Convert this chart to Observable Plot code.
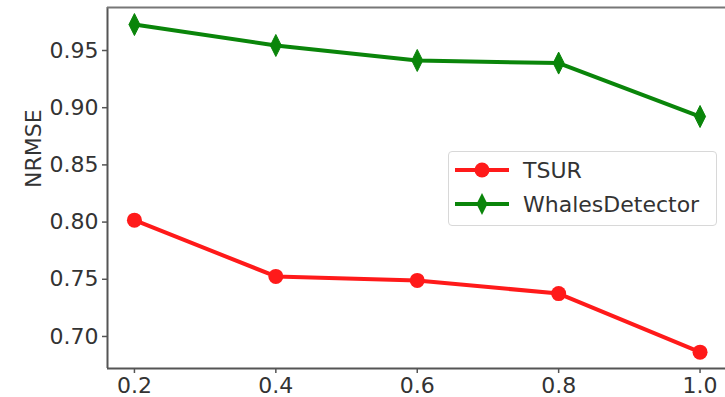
<!DOCTYPE html>
<html><head><meta charset="utf-8">
<script src="https://cdn.jsdelivr.net/npm/d3@7"></script>
<script src="https://cdn.jsdelivr.net/npm/@observablehq/plot@0.6"></script>
<style>
html,body{margin:0;padding:0;background:#fff;overflow:hidden}
#wrap{position:relative;width:725px;height:397px}
#legend{position:absolute;left:448px;top:151px;width:267px;height:73px;border:1px solid #d8d8d8;border-radius:4px;background:rgba(255,255,255,0.8);font-family:"DejaVu Sans";font-size:22px;color:#333}
.row{position:absolute;left:6px;height:30px;display:flex;align-items:center}
.row span{margin-left:14px}
</style></head><body>
<div id="wrap"></div>
<script>
const xs = [0.2, 0.4, 0.6, 0.8, 1.0];
const tsur = [0.8017, 0.7525, 0.749, 0.7375, 0.6863];
const whales = [0.9727, 0.9544, 0.9413, 0.939, 0.8923];
const seriesNames = ["TSUR", "WhalesDetector"];
const seriesColors = ["#ff1a1a", "#0a850a"];
const yTicks = [0.70, 0.75, 0.80, 0.85, 0.90, 0.95];
const xTicks = [0.2, 0.4, 0.6, 0.8, 1.0];
const xDomain = [0.1619, 1.036];
const yDomain = [0.672, 0.9876];

const thinDiamond = {draw(ctx, size){ const h = 11, w = 5.5; ctx.moveTo(0,-h); ctx.lineTo(w,0); ctx.lineTo(0,h); ctx.lineTo(-w,0); ctx.closePath(); }};

const rows = [];
xs.forEach((x,i)=>{ rows.push({x, y: tsur[i], s: seriesNames[0]}); rows.push({x, y: whales[i], s: seriesNames[1]}); });
const rT = rows.filter(d=>d.s===seriesNames[0]);
const rW = rows.filter(d=>d.s===seriesNames[1]);

const chart = Plot.plot({
  width: 725, height: 397,
  marginLeft: 107, marginTop: 7, marginRight: 0, marginBottom: 29,
  style: {fontFamily: "DejaVu Sans", fontSize: "22px", color: "#333", background: "#fff"},
  x: {domain: xDomain},
  y: {domain: yDomain},
  marks: [
    Plot.axisX({ticks: xTicks, tickFormat: d=>d.toFixed(1), tickSize: 5, tickPadding: 4, stroke: "#555", strokeWidth: 1.5, fontSize: 22, fill: "#333", label: null}),
    Plot.axisY({ticks: yTicks, tickFormat: d=>d.toFixed(2), tickSize: 5, tickPadding: 4, stroke: "#555", strokeWidth: 1.5, fontSize: 22, fill: "#333", label: null}),
    Plot.ruleX([xDomain[0]], {stroke: "#555", strokeWidth: 2}),
    Plot.ruleY([yDomain[0]], {stroke: "#555", strokeWidth: 2}),
    Plot.ruleY([yDomain[1]], {stroke: "#777", strokeWidth: 2}),
    Plot.line(rT, {x: "x", y: "y", stroke: seriesColors[0], strokeWidth: 4}),
    Plot.line(rW, {x: "x", y: "y", stroke: seriesColors[1], strokeWidth: 4}),
    Plot.dot(rT, {x: "x", y: "y", fill: seriesColors[0], r: 7.5, symbol: "circle"}),
    Plot.dot(rW, {x: "x", y: "y", fill: seriesColors[1], stroke: seriesColors[1], strokeWidth: 1, symbol: thinDiamond, r: 7}),
    Plot.text(["NRMSE"], {frameAnchor: "left", dx: -74, rotate: -90, fontSize: 22, fill: "#333"})
  ]
});
const wrap = document.getElementById("wrap");
wrap.appendChild(chart);

const leg = document.createElement("div");
leg.id = "legend";
seriesNames.forEach((name, i) => {
  const row = document.createElement("div");
  row.className = "row";
  row.style.top = (i === 0 ? 3 : 37) + "px";
  const sw = i === 0
    ? `<svg width="54" height="26"><line x1="0" y1="13" x2="54" y2="13" stroke="${seriesColors[i]}" stroke-width="4"/><circle cx="27" cy="13" r="7.5" fill="${seriesColors[i]}"/></svg>`
    : `<svg width="54" height="26"><line x1="0" y1="13" x2="54" y2="13" stroke="${seriesColors[i]}" stroke-width="4"/><path d="M27,2L32.5,13L27,24L21.5,13Z" fill="${seriesColors[i]}"/></svg>`;
  row.innerHTML = sw + `<span>${name}</span>`;
  leg.appendChild(row);
});
wrap.appendChild(leg);
</script>
</body></html>
